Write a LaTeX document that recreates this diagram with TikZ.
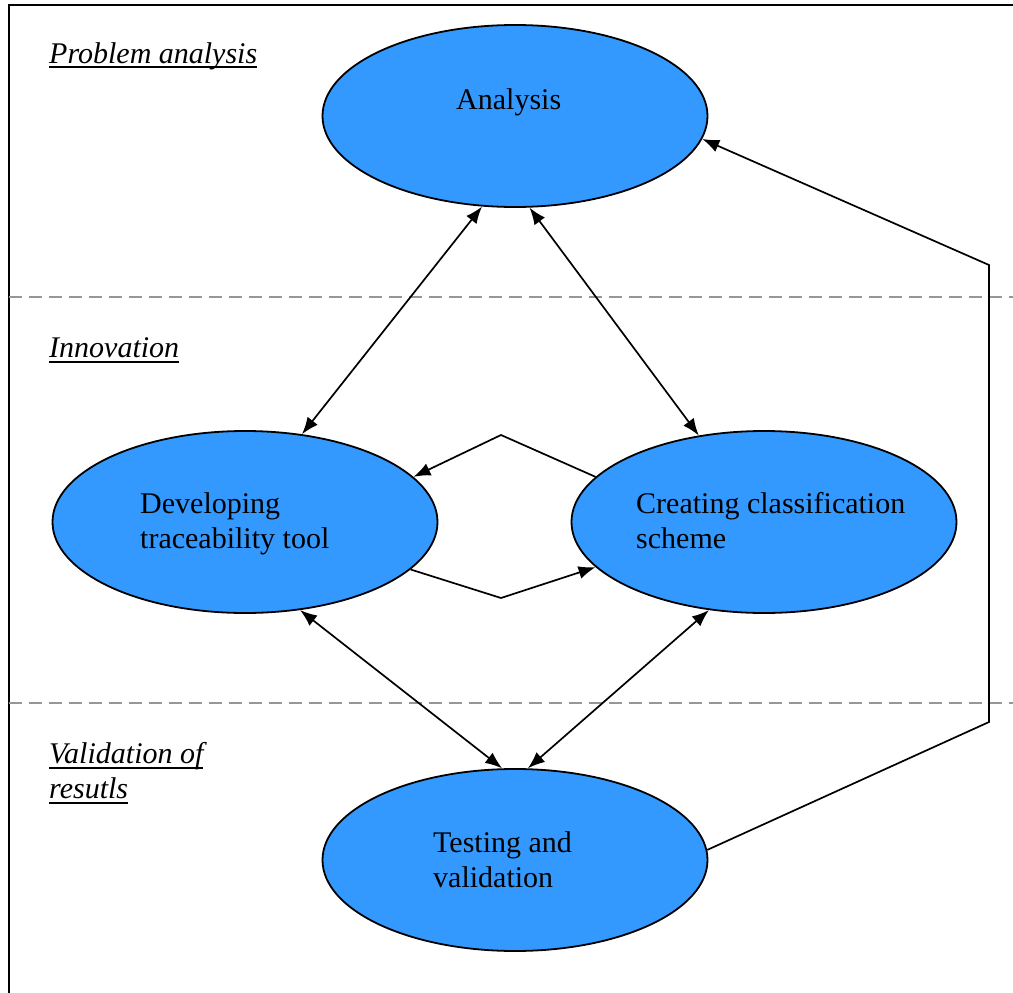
\documentclass[tikz,border=0pt]{standalone}
\usepackage{fontspec}
\setmainfont{Liberation Serif}
\usetikzlibrary{shapes.geometric,arrows.meta}
\definecolor{stagefill}{RGB}{51,153,255}
\definecolor{bandline}{RGB}{150,150,150}
% underlined phase heading: a thick rule just below the baseline
\newcommand\ulined[1]{\leavevmode\setbox0=\hbox{#1}\rlap{\rule[-5.5pt]{\wd0}{2pt}}\box0}

\begin{document}
\begin{tikzpicture}[x=1pt,y=-1pt,
  stage/.style={ellipse,draw=black,line width=1.8pt,fill=stagefill,
    minimum width=385pt,minimum height=182pt,inner sep=0pt},
  stagetext/.style={anchor=base west,align=left,inner sep=0pt,
    font=\fontsize{30}{35}\selectfont},
  phase/.style={anchor=base west,align=left,inner sep=0pt,
    font=\fontsize{30}{35}\selectfont\itshape},
  link/.style={line width=1.7pt,-{Latex[length=17pt,width=13pt]}},
  bilink/.style={line width=1.7pt,
    {Latex[length=17pt,width=13pt]}-{Latex[length=17pt,width=13pt]}},
  band/.style={bandline,line width=1.8pt,dash pattern=on 13pt off 7pt}]
\useasboundingbox (0,0) rectangle (1013,993);
\clip (0,0) rectangle (1013,993);

% outer frame
\draw[line width=2pt] (9,1010) -- (9,4.5) -- (1030,4.5);

% phase separators
\draw[band] (9,297) -- (1030,297);
\draw[band] (9,703) -- (1030,703);

% phase headings (multi-line nodes sit on the baseline of their last line)
\node[phase] (phaseA) at (49,63) {\ulined{Problem analysis}};
\node[phase] (phaseB) at (49,357) {\ulined{Innovation}};
\node[phase] (phaseC) at (49,798) {\ulined{Validation of}\\\ulined{resutls}};

% stages
\node[stage] (ana) at (515,116) {};
\node[stage] (dev) at (245,522) {};
\node[stage] (cre) at (764,522) {};
\node[stage] (tst) at (515,860) {};

\node[stagetext] (anaT) at (456,109) {Analysis};
\node[stagetext] (devT) at (140,548) {Developing\\traceability tool};
\node[stagetext] (creT) at (636,548) {Creating classification\\scheme};
\node[stagetext] (tstT) at (433,887) {Testing and\\validation};

% two-way links between stages
\draw[bilink] (ana.250) -- (dev.57);
\draw[bilink] (ana.279) -- (cre.127);
\draw[bilink] (dev.302) -- (tst.98);
\draw[bilink] (cre.238) -- (tst.82);

% exchange between the two innovation stages
\coordinate (topBend) at (501,435);
\coordinate (lowBend) at (501,598);
\draw[link] (cre.165) -- (topBend) -- (dev.15);
\draw[link] (dev.344) -- (lowBend) -- (cre.195);

% feedback from testing back to analysis
\coordinate (retA) at (989,722);
\coordinate (retB) at (989,265);
\draw[link] (tst.3) -- (retA) -- (retB) -- (ana.353);
\end{tikzpicture}
\end{document}
